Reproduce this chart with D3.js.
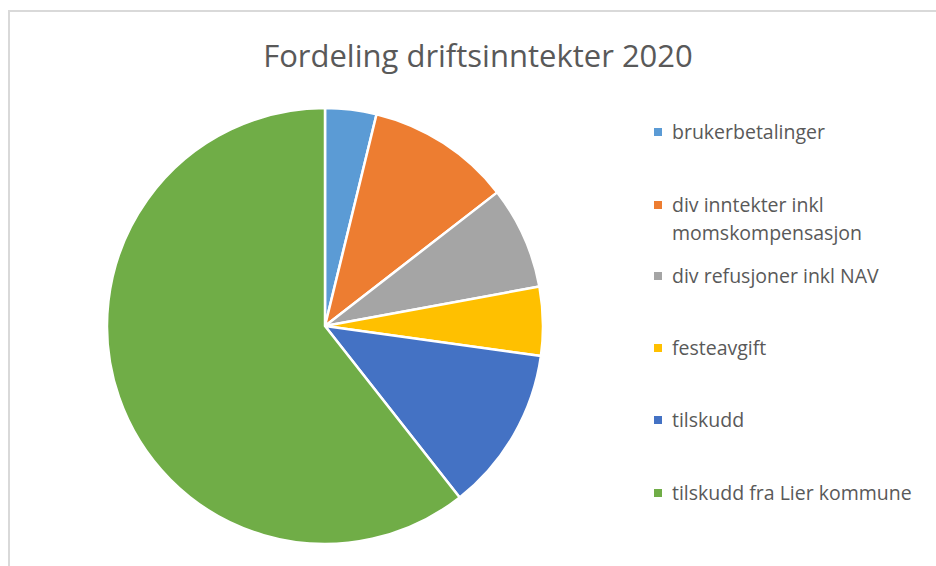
<!DOCTYPE html>
<html>
<head>
<meta charset="utf-8">
<script src="https://cdn.jsdelivr.net/npm/d3@7"></script>
<style>
  body { margin: 0; background: #fff; }
  svg { display: block; font-family: "Open Sans", sans-serif; }
</style>
</head>
<body>
<svg id="chart"></svg>
<script>
const textGrey = "#595959";

// Data (shares, percent)
const categories = [
  "brukerbetalinger",
  "div inntekter inkl momskompensasjon",
  "div refusjoner inkl NAV",
  "festeavgift",
  "tilskudd",
  "tilskudd fra Lier kommune"
];
const values = [3.8, 10.7, 7.6, 5.1, 12.2, 60.6];
const colors = ["#5B9BD5", "#ED7D31", "#A5A5A5", "#FFC000", "#4472C4", "#70AD47"];
const legendLines = [
  ["brukerbetalinger"],
  ["div inntekter inkl", "momskompensasjon"],
  ["div refusjoner inkl NAV"],
  ["festeavgift"],
  ["tilskudd"],
  ["tilskudd fra Lier kommune"]
];

const W = 936, H = 566;
const cx = 325, cy = 326, radius = 218;

const svg = d3.select("#chart")
  .attr("width", W)
  .attr("height", H);

// Chart frame
svg.append("rect")
  .attr("x", 9)
  .attr("y", 11)
  .attr("width", W + 10)
  .attr("height", H + 10)
  .attr("fill", "#fff")
  .attr("stroke", "#d9d9d9")
  .attr("stroke-width", 2);

// Title
svg.append("text")
  .attr("x", 478)
  .attr("y", 67)
  .attr("text-anchor", "middle")
  .style("font-size", "31px")
  .style("fill", textGrey)
  .text("Fordeling driftsinntekter 2020");

const data = categories.map((c, i) => ({ name: c, value: values[i] }));

const color = d3.scaleOrdinal()
  .domain(categories)
  .range(colors);

const pie = d3.pie()
  .sort(null)
  .value(d => d.value);

const arc = d3.arc()
  .innerRadius(0)
  .outerRadius(radius);

const g = svg.append("g")
  .attr("transform", `translate(${cx},${cy})`);

g.selectAll("path")
  .data(pie(data))
  .join("path")
  .attr("d", arc)
  .attr("fill", d => color(d.data.name))
  .attr("stroke", "#fff")
  .attr("stroke-width", 2.5)
  .attr("stroke-linejoin", "round");

// Legend
const legendY = [132, 205, 276, 348, 420, 493];
const legend = svg.append("g");

categories.forEach((c, i) => {
  const item = legend.append("g")
    .attr("transform", `translate(654, ${legendY[i]})`);
  item.append("rect")
    .attr("x", 0)
    .attr("y", -4)
    .attr("width", 8)
    .attr("height", 8)
    .attr("fill", color(c));
  legendLines[i].forEach((line, j) => {
    item.append("text")
      .attr("x", 18)
      .attr("y", j * 28)
      .attr("dy", "0.35em")
      .style("font-size", "19.5px")
      .style("fill", textGrey)
      .text(line);
  });
});
</script>
</body>
</html>
